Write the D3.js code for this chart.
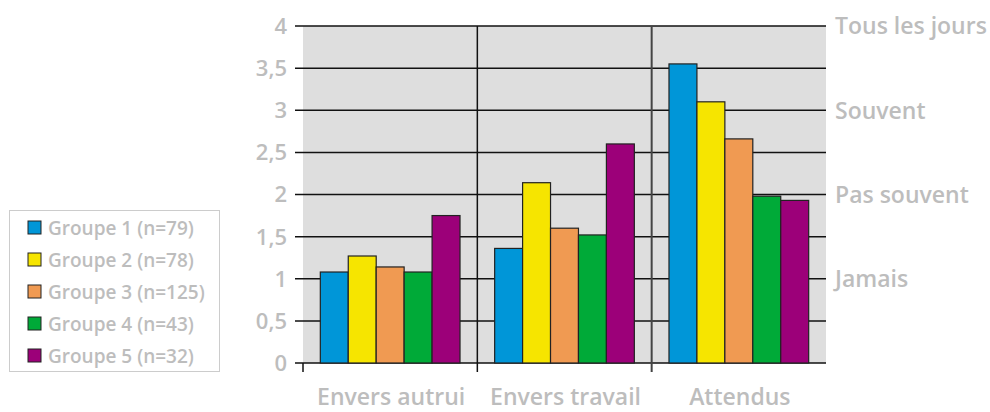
<!DOCTYPE html>
<html>
<head>
<meta charset="utf-8">
<script src="https://cdn.jsdelivr.net/npm/d3@7"></script>
<style>
  body { margin: 0; background: #fff; }
  svg text { font-family: "Open Sans", sans-serif; font-weight: 600; fill: #bdbdbd; }
</style>
</head>
<body>
<div id="chart"></div>
<script>
// data
const categories = ["Envers autrui", "Envers travail", "Attendus"];
const groups = ["Groupe 1 (n=79)", "Groupe 2 (n=78)", "Groupe 3 (n=125)", "Groupe 4 (n=43)", "Groupe 5 (n=32)"];
const colors = ["#0096d8", "#f6e500", "#f09a52", "#00aa38", "#9c0079"];
const values = [
  [1.08, 1.27, 1.14, 1.08, 1.75],
  [1.36, 2.14, 1.60, 1.52, 2.60],
  [3.55, 3.10, 2.66, 1.98, 1.93]
];
const yTicks = [0, 0.5, 1, 1.5, 2, 2.5, 3, 3.5, 4];
const rightLabels = [
  { v: 4, label: "Tous les jours" },
  { v: 3, label: "Souvent" },
  { v: 2, label: "Pas souvent" },
  { v: 1, label: "Jamais" }
];

const width = 990, height = 412;
const plotLeft = 303, plotRight = 826, plotTop = 26, plotBottom = 363;

const svg = d3.select("#chart").append("svg")
    .attr("width", width)
    .attr("height", height);

const y = d3.scaleLinear().domain([0, 4]).range([plotBottom, plotTop]);
const x0 = d3.scaleBand().domain(categories).range([plotLeft, plotRight]);
const x1 = d3.scaleBand().domain(d3.range(groups.length))
    .range([0, x0.bandwidth()]).paddingOuter(0.62);

// plot background
svg.append("rect")
    .attr("x", plotLeft).attr("y", plotTop)
    .attr("width", plotRight - plotLeft).attr("height", plotBottom - plotTop)
    .attr("fill", "#dedede");

// gridlines
svg.append("g").selectAll("line")
    .data(yTicks)
    .join("line")
    .attr("x1", plotLeft - 8).attr("x2", plotRight)
    .attr("y1", d => y(d)).attr("y2", d => y(d))
    .attr("stroke", "#111").attr("stroke-width", 1.5);

// y labels
svg.append("g").selectAll("text")
    .data(yTicks)
    .join("text")
    .attr("x", 287).attr("y", d => y(d))
    .attr("dy", "0.36em")
    .attr("text-anchor", "end")
    .style("font-size", "22px")
    .text(d => String(d).replace(".", ","));

// category separators + ticks
const seps = categories.map(c => x0(c));
svg.append("g").selectAll("line")
    .data(seps)
    .join("line")
    .attr("x1", d => d).attr("x2", d => d)
    .attr("y1", (d, i) => i === 0 ? plotBottom : plotTop)
    .attr("y2", plotBottom + 9)
    .attr("stroke", (d, i) => i === 2 ? "#444" : "#111")
    .attr("stroke-width", (d, i) => i === 2 ? 2 : 1.5);

// bars
const cat = svg.append("g").selectAll("g")
    .data(categories)
    .join("g")
    .attr("transform", d => `translate(${x0(d)},0)`);

cat.selectAll("rect")
    .data((d, i) => values[i].map((v, j) => ({ v, j })))
    .join("rect")
    .attr("x", d => x1(d.j))
    .attr("width", x1.bandwidth())
    .attr("y", d => y(d.v))
    .attr("height", d => y(0) - y(d.v))
    .attr("fill", d => colors[d.j])
    .attr("stroke", "#222")
    .attr("stroke-width", 1.2);

// category labels
svg.append("g").selectAll("text")
    .data(categories)
    .join("text")
    .attr("x", d => x0(d) + x0.bandwidth() / 2 + 1)
    .attr("y", 405)
    .attr("text-anchor", "middle")
    .style("font-size", "23px")
    .text(d => d);

// right side labels
svg.append("g").selectAll("text")
    .data(rightLabels)
    .join("text")
    .attr("x", 835).attr("y", d => y(d.v))
    .attr("dy", "0.36em")
    .style("font-size", "23px")
    .text(d => d.label);

// legend
const legend = svg.append("g");
legend.append("rect")
    .attr("x", 9.5).attr("y", 210.5)
    .attr("width", 210).attr("height", 161)
    .attr("fill", "#fff").attr("stroke", "#cccccc");

const item = legend.selectAll("g")
    .data(groups)
    .join("g")
    .attr("transform", (d, i) => `translate(28, ${228 + i * 32})`);

item.append("rect")
    .attr("x", 0).attr("y", -7)
    .attr("width", 13).attr("height", 13)
    .attr("fill", (d, i) => colors[i])
    .attr("stroke", "#222").attr("stroke-width", 1);

item.append("text")
    .attr("x", 20).attr("dy", "0.36em")
    .style("font-size", "19px")
    .text(d => d);
</script>
</body>
</html>
